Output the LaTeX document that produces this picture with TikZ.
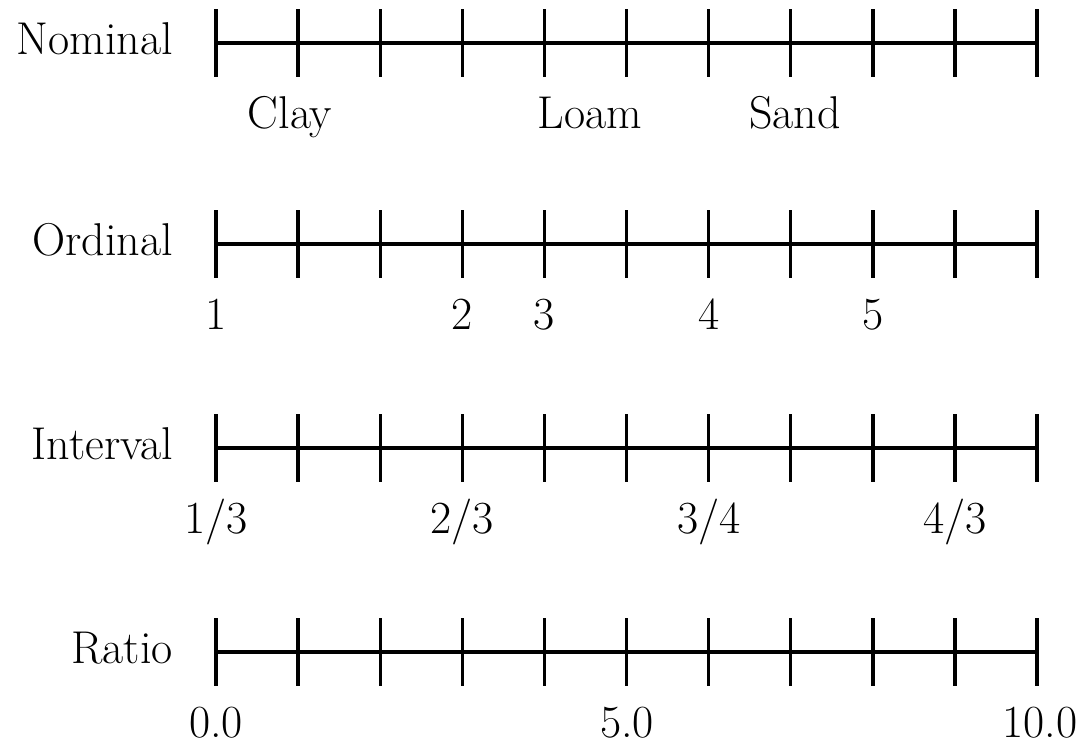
\documentclass[tikz,border=0pt]{standalone}
\usepackage{fontspec}
\setmainfont{Latin Modern Roman}
\tikzset{
  axisline/.style={line width=3.4pt, line cap=butt},
  tickline/.style={line width=3.4pt, line cap=butt},
  rowlabel/.style={anchor=base east, inner sep=0pt, font=\fontsize{46}{54}\selectfont},
  ticklabel/.style={anchor=base, inner sep=0pt, font=\fontsize{46}{54}\selectfont}
}
\begin{document}
\begin{tikzpicture}[x=1pt,y=-1pt]
\useasboundingbox (0,0) rectangle (1082,744);
\foreach \nm/\yy in {nom/43, ord/244, int/448, rat/652} {
  \coordinate (\nm-s) at (216,\yy);
  \coordinate (\nm-e) at (1037,\yy);
  \draw[axisline] (\nm-s) -- (\nm-e);
  \foreach \i in {0,...,10} {
    \draw[tickline] ({216+82.1*\i},{\yy-34}) -- ({216+82.1*\i},{\yy+34});
  }
}
% row labels
\node[rowlabel] (lnom) at (173,54) {Nominal};
\node[rowlabel] (lord) at (173,255) {Ordinal};
\node[rowlabel] (lint) at (173,459) {Interval};
\node[rowlabel] (lrat) at (173,663) {Ratio};
% nominal labels
\node[ticklabel] (clay) at (290,128) {Clay};
\node[ticklabel] (loam) at (590,128) {Loam};
\node[ticklabel] (sand) at (795,128) {Sand};
% ordinal labels
\node[ticklabel] (o1) at (216,329) {1};
\node[ticklabel] (o2) at (462,329) {2};
\node[ticklabel] (o3) at (544,329) {3};
\node[ticklabel] (o4) at (709,329) {4};
\node[ticklabel] (o5) at (873,329) {5};
% interval labels
\node[ticklabel] (i1) at (216,533) {1/3};
\node[ticklabel] (i2) at (462,533) {2/3};
\node[ticklabel] (i3) at (709,533) {3/4};
\node[ticklabel] (i4) at (955,533) {4/3};
% ratio labels
\node[ticklabel] (r0) at (216,737) {0.0};
\node[ticklabel] (r5) at (627,737) {5.0};
\node[ticklabel] (r10) at (1040,737) {10.0};
\end{tikzpicture}
\end{document}
